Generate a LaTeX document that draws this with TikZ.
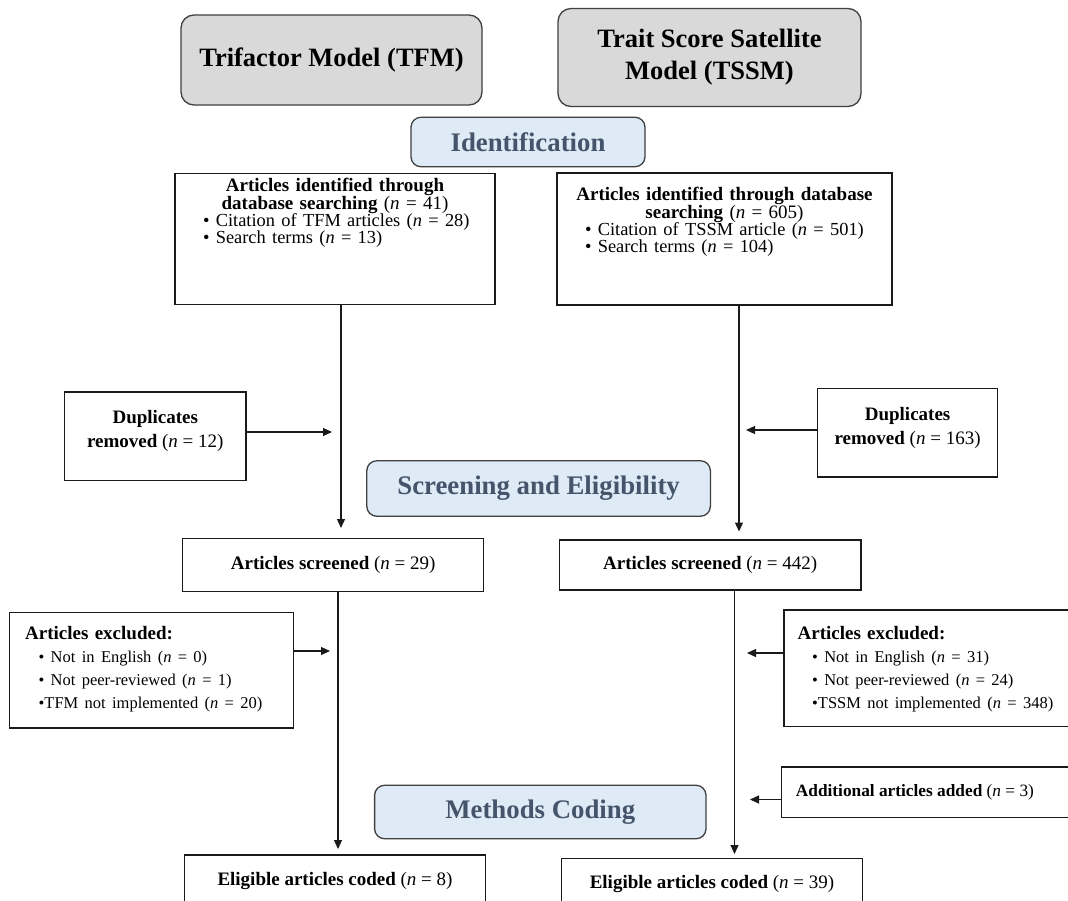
\documentclass[tikz,border=0pt]{standalone}
\usepackage{fontspec}
\setmainfont{Liberation Serif}
\usetikzlibrary{arrows.meta, positioning}

\definecolor{hdrfill}{HTML}{D9D9D9}
\definecolor{hdrline}{HTML}{404040}
\definecolor{stagefill}{HTML}{DEEAF6}
\definecolor{stagetext}{HTML}{44546A}
\definecolor{boxline}{HTML}{1A1A1A}
\newcommand{\nval}[1]{{\mdseries(\textit{n} = #1)}}

\begin{document}
\begin{tikzpicture}[x=1pt, y=-1pt,
  hdrbox/.style={draw=hdrline, fill=hdrfill, line width=1.3pt, rounded corners=13pt, inner sep=0pt, align=center, font=\fontsize{26.5}{32}\selectfont\bfseries},
  stagebox/.style={draw=hdrline, fill=stagefill, line width=1.3pt, rounded corners=10pt, inner sep=0pt, text=stagetext, font=\fontsize{26.8}{32}\selectfont\bfseries},
  plainbox/.style={draw=boxline, line width=1.2pt, inner sep=0pt, font=\fontsize{19}{24}\selectfont},
  boxtext/.style={inner sep=0pt, font=\fontsize{19}{24}\selectfont},
  arr/.style={draw=boxline, line width=1.2pt, -{Triangle[length=9pt, width=8pt]}}]

\useasboundingbox (0,0) rectangle (1068,900);
\clip (0,0) rectangle (1068,900);
\fill[white] (0,0) rectangle (1068,900);

% model headers and stage labels
\node[hdrbox, minimum width=301pt, minimum height=90pt] (tfm) at (331.5,60) {Trifactor Model (TFM)};
\node[hdrbox, minimum width=303pt, minimum height=98pt] (tssm) at (709.5,57.5) {Trait Score Satellite\\Model (TSSM)};
\node[stagebox, minimum width=234pt, minimum height=49.5pt] (ident) at (528,142) {Identification};
\node[stagebox, minimum width=343.6pt, minimum height=55.5pt] (screen) at (538.6,488.5) {Screening and Eligibility};
\node[stagebox, minimum width=331.4pt, minimum height=53.5pt] (coding) at (540.3,812) {Methods Coding};

% identification
\node[plainbox, minimum width=320pt, minimum height=131pt] (idTFM) at (335,238.8) {};
\node[boxtext, text width=320pt, align=left, below=5pt of idTFM.north] (idTFMtxt) {\parindent=0pt
  {\centering\bfseries\lineskiplimit=-20pt\baselineskip=18pt Articles identified through\\database searching \nval{41}\par}
  {\fontsize{18.4}{17}\selectfont\leftskip=28pt\lineskiplimit=-20pt • Citation of TFM articles \nval{28}\\• Search terms \nval{13}\par}};
\node[plainbox, minimum width=335pt, minimum height=132pt] (idTSSM) at (724.5,239) {};
\node[boxtext, text width=335pt, align=left, below=15pt of idTSSM.north] (idTSSMtxt) {\parindent=0pt
  {\centering\bfseries\lineskiplimit=-20pt\baselineskip=18pt Articles identified through database\\searching \nval{605}\par}
  {\fontsize{18.4}{17}\selectfont\leftskip=28pt\lineskiplimit=-20pt • Citation of TSSM article \nval{501}\\• Search terms \nval{104}\par}};

\node[plainbox, minimum width=181.2pt, minimum height=88.6pt] (dupTFM) at (155.3,436.2) {};
\node[boxtext, align=center, below=19pt of dupTFM.north] (dupTFMtxt) {\textbf{Duplicates}\\\textbf{removed} \nval{12}};
\node[plainbox, minimum width=180.5pt, minimum height=88.5pt] (dupTSSM) at (907.6,432.7) {};
\node[boxtext, align=center, below=19pt of dupTSSM.north] (dupTSSMtxt) {\textbf{Duplicates}\\\textbf{removed} \nval{163}};

% screening
\node[plainbox, minimum width=300.7pt, minimum height=52.8pt] (scrTFM) at (333.2,564.8) {\textbf{Articles screened} \nval{29}};
\node[plainbox, minimum width=301.5pt, minimum height=50pt] (scrTSSM) at (710.2,565) {\textbf{Articles screened} \nval{442}};

\node[plainbox, minimum width=284.1pt, minimum height=115.4pt] (exclTFM) at (151.6,670.3) {};
\node[boxtext, text width=270pt, align=left, below right=14pt and 16pt of exclTFM.north west] (exclTFMtxt) {\parindent=0pt
  {\bfseries Articles excluded:\par}
  {\fontsize{16.5}{23}\selectfont\leftskip=13.5pt • Not in English \nval{0}\\• Not peer-reviewed \nval{1}\\•TFM not implemented \nval{20}\par}};
\node[plainbox, minimum width=291pt, minimum height=116.3pt] (exclTSSM) at (929.5,668.2) {};
\node[boxtext, text width=270pt, align=left, below right=16.5pt and 14pt of exclTSSM.north west] (exclTSSMtxt) {\parindent=0pt
  {\bfseries Articles excluded:\par}
  {\fontsize{16.5}{23}\selectfont\leftskip=14.6pt • Not in English \nval{31}\\• Not peer-reviewed \nval{24}\\•TSSM not implemented \nval{348}\par}};

\node[plainbox, minimum width=293.4pt, minimum height=50.5pt] (add) at (928.3,792.2) {};
\node[boxtext, font=\fontsize{17.3}{21}\selectfont, right=14.7pt of add.west] (addtxt) {\textbf{Additional articles added} \nval{3}};

% coding
\node[plainbox, minimum width=300.7pt, minimum height=52pt] (codTFM) at (335,881) {\textbf{Eligible articles coded} \nval{8}};
\node[plainbox, minimum width=301.5pt, minimum height=52pt] (codTSSM) at (712,884.4) {\textbf{Eligible articles coded} \nval{39}};

% connectors
\coordinate (ltip1) at (341,528);
\coordinate (ltip2) at (338,849);
\coordinate (rtip1) at (739,531.5);
\coordinate (rtip2) at (734.5,854);
\draw[arr] (ltip1 |- idTFM.south) -- (ltip1);
\draw[arr] (ltip2 |- scrTFM.south) -- (ltip2);
\draw[arr] (rtip1 |- idTSSM.south) -- (rtip1);
\draw[arr] (rtip2 |- scrTSSM.south) -- (rtip2);

\coordinate (dupTFMtip) at (332,432);
\coordinate (dupTSSMtip) at (746,430);
\coordinate (exclTFMtip) at (330,651);
\coordinate (exclTSSMtip) at (747,653);
\coordinate (addtip) at (750,799.5);
\draw[arr] (dupTFM.east |- dupTFMtip) -- (dupTFMtip);
\draw[arr] (dupTSSM.west |- dupTSSMtip) -- (dupTSSMtip);
\draw[arr] (exclTFM.east |- exclTFMtip) -- (exclTFMtip);
\draw[arr] (exclTSSM.west |- exclTSSMtip) -- (exclTSSMtip);
\draw[arr] (add.west |- addtip) -- (addtip);

\end{tikzpicture}
\end{document}
